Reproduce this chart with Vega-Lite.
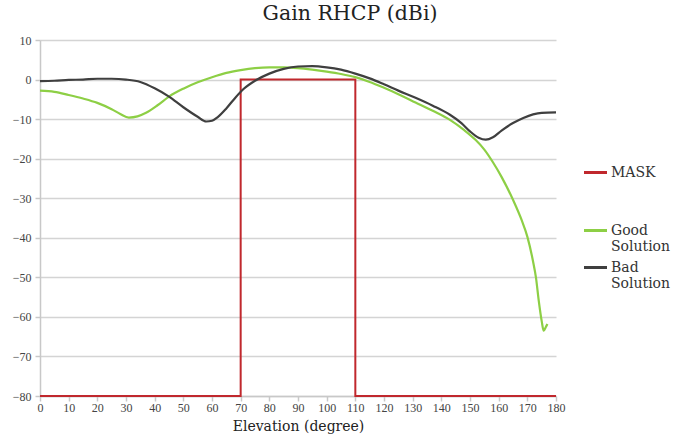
{
  "$schema": "https://vega.github.io/schema/vega-lite/v6.json",
  "width": 516,
  "height": 356,
  "autosize": {"type": "none"},
  "padding": {"left": 40, "top": 40, "right": 136, "bottom": 45},
  "background": "white",
  "title": {
    "text": "Gain RHCP (dBi)",
    "font": "DejaVu Serif",
    "fontSize": 20.5,
    "fontWeight": "normal",
    "color": "#222222",
    "anchor": "middle",
    "frame": "group",
    "dx": 52,
    "offset": 10
  },
  "config": {
    "view": {"stroke": null},
    "axis": {
      "labelFont": "Liberation Serif",
      "labelFontSize": 12,
      "labelColor": "#444444",
      "titleFont": "DejaVu Serif",
      "titleFontSize": 14,
      "titleFontWeight": "normal",
      "titleColor": "#222222",
      "domainColor": "#c8c8c8",
      "domainWidth": 1.5,
      "tickColor": "#c8c8c8",
      "tickWidth": 1.5,
      "gridColor": "#d4d4d4",
      "gridWidth": 1.5
    },
    "legend": {
      "title": null,
      "orient": "none",
      "padding": 0,
      "symbolType": "stroke",
      "symbolSize": 530,
      "symbolStrokeWidth": 3,
      "labelFont": "DejaVu Serif",
      "labelFontSize": 14,
      "labelColor": "#333333",
      "labelOffset": 2
    }
  },
  "datasets": {
    "mask": [
      {"series": "MASK", "i": 0, "x": 0, "y": -80},
      {"series": "MASK", "i": 1, "x": 70, "y": -80},
      {"series": "MASK", "i": 2, "x": 70, "y": 0},
      {"series": "MASK", "i": 3, "x": 110, "y": 0},
      {"series": "MASK", "i": 4, "x": 110, "y": -80},
      {"series": "MASK", "i": 5, "x": 180, "y": -80}
    ],
    "curves": [
      {"series": "Good Solution", "x": 0, "y": -2.8},
      {"series": "Good Solution", "x": 5, "y": -3.1},
      {"series": "Good Solution", "x": 10, "y": -3.9},
      {"series": "Good Solution", "x": 15, "y": -4.8},
      {"series": "Good Solution", "x": 20, "y": -5.9},
      {"series": "Good Solution", "x": 25, "y": -7.5},
      {"series": "Good Solution", "x": 28, "y": -8.7},
      {"series": "Good Solution", "x": 31, "y": -9.6},
      {"series": "Good Solution", "x": 34, "y": -9.3},
      {"series": "Good Solution", "x": 37, "y": -8.4},
      {"series": "Good Solution", "x": 41, "y": -6.5},
      {"series": "Good Solution", "x": 45, "y": -4.3},
      {"series": "Good Solution", "x": 50, "y": -2.3},
      {"series": "Good Solution", "x": 55, "y": -0.7},
      {"series": "Good Solution", "x": 60, "y": 0.6},
      {"series": "Good Solution", "x": 65, "y": 1.7},
      {"series": "Good Solution", "x": 70, "y": 2.4},
      {"series": "Good Solution", "x": 75, "y": 2.9},
      {"series": "Good Solution", "x": 80, "y": 3.1},
      {"series": "Good Solution", "x": 85, "y": 3.1},
      {"series": "Good Solution", "x": 90, "y": 2.9},
      {"series": "Good Solution", "x": 95, "y": 2.5},
      {"series": "Good Solution", "x": 100, "y": 2.0},
      {"series": "Good Solution", "x": 105, "y": 1.4},
      {"series": "Good Solution", "x": 110, "y": 0.6},
      {"series": "Good Solution", "x": 115, "y": -0.6},
      {"series": "Good Solution", "x": 120, "y": -2.1},
      {"series": "Good Solution", "x": 125, "y": -3.7},
      {"series": "Good Solution", "x": 131, "y": -5.8},
      {"series": "Good Solution", "x": 137, "y": -7.9},
      {"series": "Good Solution", "x": 143, "y": -10.2},
      {"series": "Good Solution", "x": 148, "y": -12.8},
      {"series": "Good Solution", "x": 152, "y": -15.3},
      {"series": "Good Solution", "x": 155, "y": -17.7},
      {"series": "Good Solution", "x": 158, "y": -20.9},
      {"series": "Good Solution", "x": 161, "y": -24.6},
      {"series": "Good Solution", "x": 165, "y": -30.4},
      {"series": "Good Solution", "x": 168, "y": -35.5},
      {"series": "Good Solution", "x": 170, "y": -39.7},
      {"series": "Good Solution", "x": 172, "y": -46},
      {"series": "Good Solution", "x": 173, "y": -50},
      {"series": "Good Solution", "x": 174, "y": -56},
      {"series": "Good Solution", "x": 175, "y": -61},
      {"series": "Good Solution", "x": 175.7, "y": -63.5},
      {"series": "Good Solution", "x": 176.5, "y": -62.5},
      {"series": "Good Solution", "x": 177, "y": -61.8},
      {"series": "Bad Solution", "x": 0, "y": -0.4},
      {"series": "Bad Solution", "x": 5, "y": -0.3},
      {"series": "Bad Solution", "x": 10, "y": -0.1},
      {"series": "Bad Solution", "x": 15, "y": 0},
      {"series": "Bad Solution", "x": 20, "y": 0.2},
      {"series": "Bad Solution", "x": 25, "y": 0.2},
      {"series": "Bad Solution", "x": 30, "y": 0},
      {"series": "Bad Solution", "x": 35, "y": -0.6},
      {"series": "Bad Solution", "x": 40, "y": -2.2},
      {"series": "Bad Solution", "x": 45, "y": -4.3},
      {"series": "Bad Solution", "x": 50, "y": -7},
      {"series": "Bad Solution", "x": 55, "y": -9.4},
      {"series": "Bad Solution", "x": 58, "y": -10.6},
      {"series": "Bad Solution", "x": 60, "y": -10.4},
      {"series": "Bad Solution", "x": 62, "y": -9.5},
      {"series": "Bad Solution", "x": 65, "y": -7.3},
      {"series": "Bad Solution", "x": 68, "y": -4.7},
      {"series": "Bad Solution", "x": 71, "y": -2.4},
      {"series": "Bad Solution", "x": 75, "y": -0.3},
      {"series": "Bad Solution", "x": 80, "y": 1.5},
      {"series": "Bad Solution", "x": 85, "y": 2.7},
      {"series": "Bad Solution", "x": 90, "y": 3.3},
      {"series": "Bad Solution", "x": 95, "y": 3.4},
      {"series": "Bad Solution", "x": 100, "y": 3.1},
      {"series": "Bad Solution", "x": 105, "y": 2.5},
      {"series": "Bad Solution", "x": 110, "y": 1.5},
      {"series": "Bad Solution", "x": 115, "y": 0.3},
      {"series": "Bad Solution", "x": 120, "y": -1.2},
      {"series": "Bad Solution", "x": 125, "y": -2.8},
      {"series": "Bad Solution", "x": 131, "y": -4.6},
      {"series": "Bad Solution", "x": 137, "y": -6.6},
      {"series": "Bad Solution", "x": 143, "y": -8.9},
      {"series": "Bad Solution", "x": 147, "y": -11},
      {"series": "Bad Solution", "x": 150, "y": -13.1},
      {"series": "Bad Solution", "x": 153, "y": -14.7},
      {"series": "Bad Solution", "x": 155.5, "y": -15.2},
      {"series": "Bad Solution", "x": 158, "y": -14.6},
      {"series": "Bad Solution", "x": 161, "y": -12.9},
      {"series": "Bad Solution", "x": 165, "y": -11},
      {"series": "Bad Solution", "x": 168.6, "y": -9.7},
      {"series": "Bad Solution", "x": 172, "y": -8.8},
      {"series": "Bad Solution", "x": 175, "y": -8.4},
      {"series": "Bad Solution", "x": 180, "y": -8.3}
    ]
  },
  "encoding": {
    "x": {
      "field": "x",
      "type": "quantitative",
      "scale": {"domain": [0, 180], "nice": false, "zero": false},
      "axis": {
        "title": "Elevation (degree)",
        "values": [0,10,20,30,40,50,60,70,80,90,100,110,120,130,140,150,160,170,180],
        "grid": false,
        "tickSize": 5,
        "labelPadding": 1,
        "titlePadding": 6,
        "labelFlush": false
      }
    },
    "y": {
      "field": "y",
      "type": "quantitative",
      "scale": {"domain": [-80, 10], "nice": false, "zero": false},
      "axis": {
        "title": null,
        "values": [-80,-70,-60,-50,-40,-30,-20,-10,0,10],
        "grid": true,
        "tickSize": 5,
        "labelPadding": 4
      }
    }
  },
  "layer": [
    {
      "data": {"name": "mask"},
      "mark": {"type": "line", "strokeWidth": 2, "interpolate": "linear"},
      "encoding": {
        "order": {"field": "i", "type": "quantitative"},
        "color": {
          "field": "series",
          "type": "nominal",
          "scale": {"domain": ["MASK"], "range": ["#c0282d"]},
          "legend": {"legendX": 542, "legendY": 119}
        }
      }
    },
    {
      "data": {"name": "curves"},
      "mark": {"type": "line", "strokeWidth": 2.2, "interpolate": "monotone"},
      "encoding": {
        "color": {
          "field": "series",
          "type": "nominal",
          "scale": {
            "domain": ["Good Solution", "Bad Solution"],
            "range": ["#8dcf45", "#3f3f3f"]
          },
          "legend": {
            "legendX": 542,
            "legendY": 177,
            "labelExpr": "split(datum.label, ' ')",
            "labelBaseline": "middle",
            "rowPadding": -9
          }
        }
      }
    }
  ],
  "resolve": {"scale": {"color": "independent"}}
}
